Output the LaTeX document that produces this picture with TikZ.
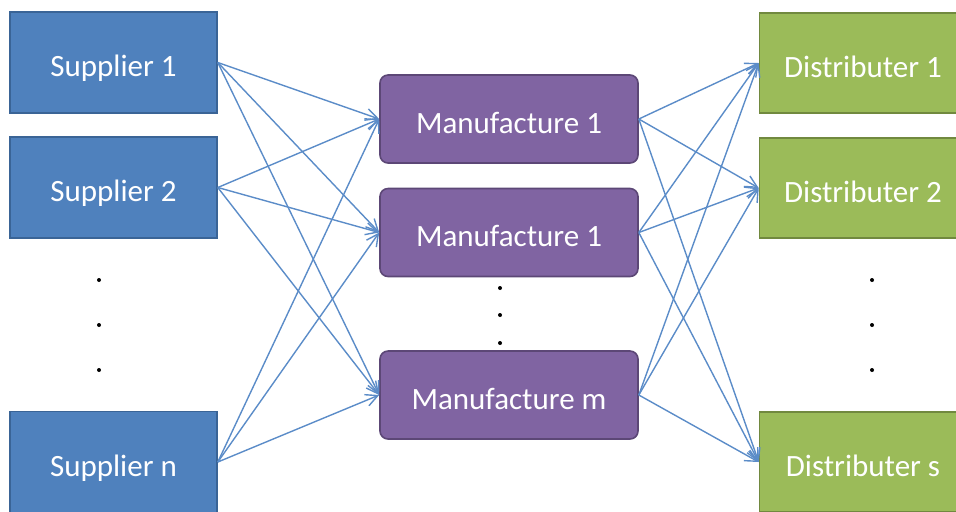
\documentclass[tikz,border=0pt]{standalone}
\usepackage{fontspec}
\setmainfont{Carlito}
\usetikzlibrary{arrows.meta}
\definecolor{supfill}{HTML}{4F81BD}
\definecolor{supline}{HTML}{3A6496}
\definecolor{manfill}{HTML}{8064A2}
\definecolor{manline}{HTML}{5C4776}
\definecolor{disfill}{HTML}{9BBB59}
\definecolor{disline}{HTML}{71893F}
\definecolor{flowcol}{HTML}{5B8CC8}
\begin{document}
\begin{tikzpicture}[x=0.5pt,y=-0.5pt,
  boxtext/.style={text=white,inner sep=0pt,text height=14pt,text depth=0pt,
    font=\fontsize{15.5}{18}\selectfont},
  supbox/.style={boxtext,draw=supline,line width=0.8pt,fill=supfill,
    minimum width=103.5pt,minimum height=50.5pt},
  manbox/.style={boxtext,draw=manline,line width=0.8pt,fill=manfill,rounded corners=4pt,
    minimum width=129pt,minimum height=44pt},
  disbox/.style={boxtext,draw=disline,line width=0.8pt,fill=disfill,
    minimum width=103.5pt,minimum height=50pt},
  flow/.style={draw=flowcol,line width=0.7pt,-{Straight Barb[length=6pt,width=6pt]}},
  dot/.style={fill=black,circle,inner sep=0pt,minimum size=2pt}]
\useasboundingbox (0,0) rectangle (956,511);
\clip (0,0) rectangle (956,511);

% suppliers
\node[supbox] (sup1) at (113.5,62.5) {Supplier 1};
\node[supbox] (sup2) at (113.5,187.5) {Supplier 2};
\node[supbox] (supn) at (113.5,462) {Supplier n};

% manufactures
\node[manbox] (man1) at (509,119) {Manufacture 1};
\node[manbox] (man2) at (509,232.5) {Manufacture 1};
\node[manbox] (manm) at (509,395) {Manufacture m};

% distributers
\node[disbox] (dis1) at (863,63) {Distributer 1};
\node[disbox] (dis2) at (863,188) {Distributer 2};
\node[disbox] (diss) at (863,462) {Distributer s};

% vertical dots
\foreach \y [count=\i] in {280,325,370} {
  \node[dot] (supdot\i) at (99,\y) {};
  \node[dot] (disdot\i) at (872,\y) {};
}
\foreach \y [count=\i] in {288,315,343}
  \node[dot] (mandot\i) at (500,\y) {};

% flows
\foreach \s in {sup1,sup2,supn}
  \foreach \m in {man1,man2,manm}
    \draw[flow] (\s.east) -- (\m.west);
\foreach \m in {man1,man2,manm}
  \foreach \d in {dis1,dis2,diss}
    \draw[flow] (\m.east) -- (\d.west);
\end{tikzpicture}
\end{document}
